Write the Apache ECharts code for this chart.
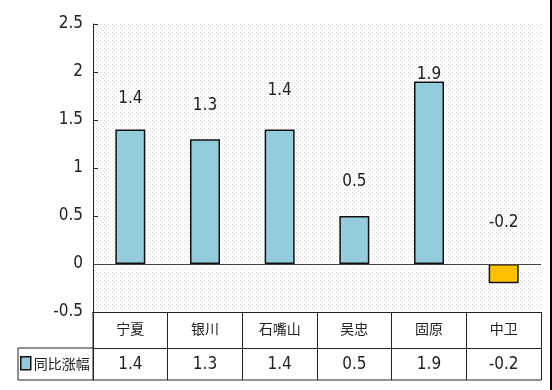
<!DOCTYPE html>
<html><head><meta charset="utf-8">
<script src="https://cdn.jsdelivr.net/npm/echarts@6/dist/echarts.min.js"></script>
<style>html,body{margin:0;padding:0;background:#fff}#c{width:552px;height:390px}</style>
</head><body><div id="c"></div>
<script>
// ---- data ----
const categories = ['宁夏', '银川', '石嘴山', '吴忠', '固原', '中卫'];
const values = [1.4, 1.3, 1.4, 0.5, 1.9, -0.2];
const seriesName = '同比涨幅';
const yMin = -0.5, yMax = 2.5, yInterval = 0.5;
// label lift above bar (style only)
const labelLift = [23, 25.5, 31, 25.5, -1.5, 32.5];

const numFont = "'Liberation Sans Narrow', 'DejaVu Sans Condensed', 'Liberation Sans', sans-serif";
const cjkFont = "'Noto Sans CJK SC', sans-serif";

// dotted pattern for plot background
const tile = document.createElement('canvas');
tile.width = 4; tile.height = 4;
const tc = tile.getContext('2d');
tc.fillStyle = '#ffffff'; tc.fillRect(0, 0, 4, 4);
tc.fillStyle = '#dadada'; tc.fillRect(0, 0, 1, 1); tc.fillRect(2, 2, 1, 1);

const chart = echarts.init(document.getElementById('c'), null, {renderer: 'canvas'});
const lineColor = '#222';
chart.setOption({
  animation: false,
  backgroundColor: '#fff',
  grid: {left: 93, right: 11, top: 24, bottom: 78, show: true, borderWidth: 0,
         backgroundColor: {image: tile, repeat: 'repeat'}},
  legend: {
    data: [seriesName], left: 20, top: 356, padding: 0, itemWidth: 10, itemHeight: 13, itemGap: 4,
    icon: 'rect',
    itemStyle: {borderColor: '#111', borderWidth: 1.5},
    textStyle: {fontFamily: cjkFont, fontSize: 14, color: '#222', padding: [0, 0, 0, -2]}
  },
  xAxis: [{
    type: 'category', data: categories, position: 'bottom',
    axisLine: {show: true, onZero: false, lineStyle: {color: lineColor, width: 1}},
    axisTick: {show: true, interval: 0, length: 36, inside: false, lineStyle: {color: lineColor}},
    axisLabel: {interval: 0, margin: 10, fontFamily: cjkFont, fontSize: 14, color: '#222'},
    splitLine: {show: false}
  }, {
    type: 'category', data: values.map(v => String(v)), position: 'bottom', offset: 36,
    axisLine: {show: true, onZero: false, lineStyle: {color: lineColor, width: 1}},
    axisTick: {show: true, interval: 0, length: 32, inside: false, lineStyle: {color: lineColor}},
    axisLabel: {interval: 0, margin: 8, fontFamily: numFont, fontSize: 17, color: '#222'},
    splitLine: {show: false}
  }],
  yAxis: {
    type: 'value', min: yMin, max: yMax, interval: yInterval,
    axisLine: {show: true, lineStyle: {color: lineColor, width: 1}},
    axisTick: {show: true, inside: true, length: 5, lineStyle: {color: lineColor}},
    axisLabel: {margin: 10, fontFamily: numFont, fontSize: 17, color: '#222'},
    splitLine: {show: false}
  },
  series: [{
    name: seriesName, type: 'bar', xAxisIndex: 0, barWidth: 30,
    itemStyle: {color: '#93CDDD', borderColor: '#111', borderWidth: 1.5},
    label: {show: true, position: 'top', distance: 0, fontFamily: numFont, fontSize: 17, color: '#222'},
    data: values.map((v, i) => ({
      value: v,
      label: {offset: [0, -labelLift[i]]},
      itemStyle: v < 0 ? {color: '#FFC000'} : undefined
    })),
    markLine: {
      silent: true, symbol: ['none', 'none'], label: {show: false},
      lineStyle: {color: '#444', width: 1, type: 'solid'},
      data: [{yAxis: 0}]
    }
  }]
});

// table frame pieces beyond axes
const gridRect = chart.getModel().getComponent('grid').coordinateSystem.getRect();
const yTop = gridRect.y + gridRect.height;       // table top
const yMid = yTop + 36, yBot = yTop + 68;
const xL = gridRect.x, xR = gridRect.x + gridRect.width, xFar = 18;
chart.setOption({
  graphic: [
    {type: 'line', shape: {x1: xFar, y1: yBot, x2: xR, y2: yBot}, style: {stroke: lineColor, lineWidth: 1}},
    {type: 'line', shape: {x1: xFar, y1: yMid, x2: xL, y2: yMid}, style: {stroke: lineColor, lineWidth: 1}},
    {type: 'line', shape: {x1: xFar, y1: yMid, x2: xFar, y2: yBot}, style: {stroke: lineColor, lineWidth: 1}},
    {type: 'line', shape: {x1: xL, y1: yTop, x2: xL, y2: yBot}, style: {stroke: lineColor, lineWidth: 1}},
    {type: 'rect', shape: {x: 550, y: 0, width: 2, height: 390}, style: {fill: '#000'}}
  ]
});
</script></body></html>
